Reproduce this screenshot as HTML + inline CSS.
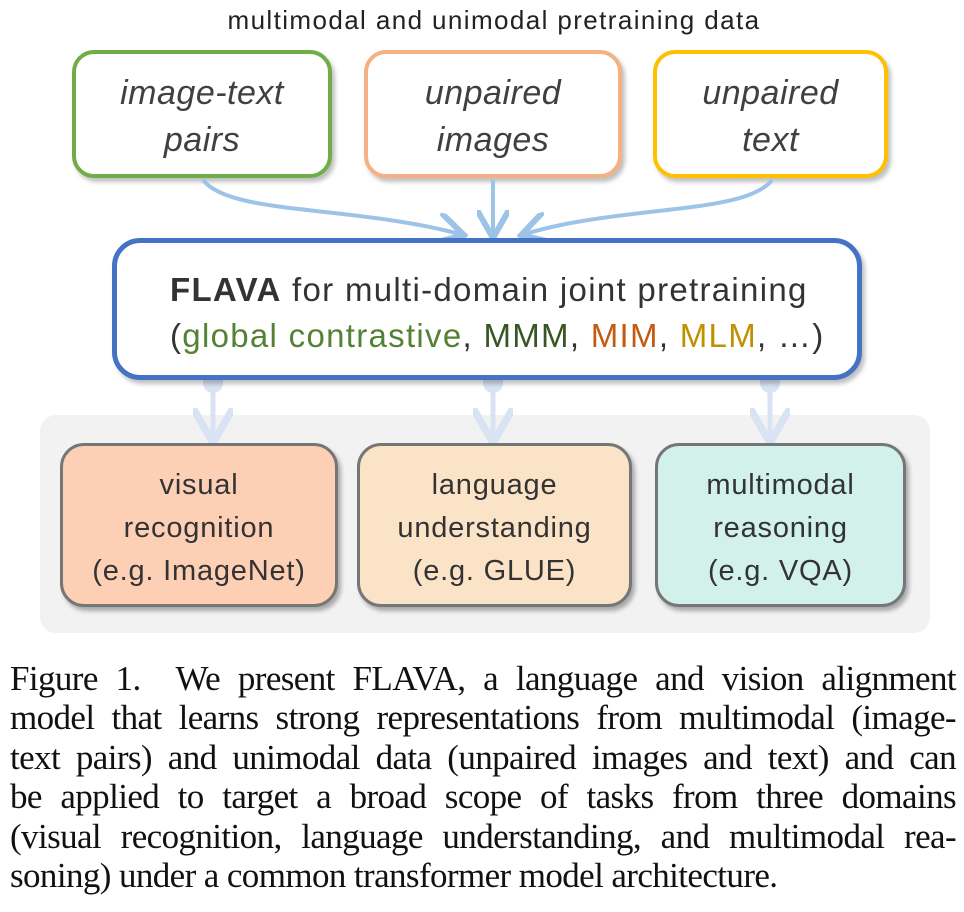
<!DOCTYPE html>
<html><head><meta charset="utf-8"><style>
body{margin:0;width:964px;height:912px;background:#fff;position:relative;overflow:hidden;font-family:"Liberation Sans",sans-serif}
.a{position:absolute;box-sizing:border-box}
.top{border-radius:22px;border:4px solid;background:#fff;font-style:italic;font-size:34px;letter-spacing:0.5px;color:#404040;text-align:center;line-height:47px;padding-top:16px;box-shadow:3px 4px 4px rgba(0,0,0,.25)}
.bot{border-radius:24px;border:3px solid #767676;font-size:29px;letter-spacing:0.8px;color:#333;text-align:center;line-height:43px;padding-top:18px;box-shadow:3px 4px 4px rgba(0,0,0,.3);white-space:nowrap}
.cap{position:absolute;left:10px;width:946px;font-family:"Liberation Serif",serif;font-size:35px;letter-spacing:-0.6px;color:#111;text-align:justify;text-align-last:justify;white-space:nowrap;height:40px;line-height:40px}
</style></head><body>
<div class="a" style="left:0;width:988px;top:5px;text-align:center;font-size:26px;letter-spacing:1.4px;color:#222">multimodal and unimodal pretraining data</div>
<div class="a top" style="left:72px;top:50px;width:260px;height:128px;border-color:#70ad47">image-text<br>pairs</div>
<div class="a top" style="left:364px;top:50px;width:258px;height:128px;border-color:#f4b183">unpaired<br>images</div>
<div class="a top" style="left:653px;top:50px;width:235px;height:128px;border-color:#ffc000">unpaired<br>text</div>
<div class="a" style="left:40px;top:415px;width:890px;height:218px;background:#f2f2f2;border-radius:16px"></div>
<svg class="a" style="left:0;top:0" width="964" height="450">
<defs><marker id="m" markerWidth="8" markerHeight="8" refX="6" refY="4" orient="auto" markerUnits="strokeWidth"><path d="M0,0 L7,4 L0,8" fill="none" stroke="#9dc3e6" stroke-width="1.5"/></marker>
<marker id="n" markerWidth="8" markerHeight="8" refX="6" refY="4" orient="auto" markerUnits="strokeWidth"><path d="M0,0 L7,4 L0,8" fill="none" stroke="#dae3f3" stroke-width="1.5"/></marker></defs>
<g fill="none" stroke="#9dc3e6" stroke-width="4">
<path d="M203,180 C230,215 350,205 460,234" marker-end="url(#m)"/>
<path d="M493,180 L493,234" marker-end="url(#m)"/>
<path d="M772,180 C745,215 620,205 525,234" marker-end="url(#m)"/>
</g>
<g fill="none" stroke="#dae3f3" stroke-width="5">
<path d="M213,382 L213,438" marker-end="url(#n)"/>
<path d="M493,382 L493,438" marker-end="url(#n)"/>
<path d="M770,382 L770,438" marker-end="url(#n)"/>
</g>
<g fill="#dae3f3"><circle cx="213" cy="383" r="10"/><circle cx="493" cy="383" r="10"/><circle cx="770" cy="383" r="10"/></g>
</svg>
<div class="a" style="left:112px;top:238px;width:750px;height:142px;border:5px solid #4472c4;border-radius:28px;background:#fff;box-shadow:3px 4px 4px rgba(0,0,0,.25);padding:24px 0 0 53px;font-size:33px;letter-spacing:1.3px;line-height:46px;color:#333;white-space:nowrap">
<b>FLAVA</b> for multi-domain joint pretraining<br>(<span style="color:#548235">global contrastive</span>, <span style="color:#375623">MMM</span>, <span style="color:#c55a11">MIM</span>, <span style="color:#bf9000">MLM</span>, …)</div>
<div class="a bot" style="left:60px;top:443px;width:278px;height:164px;background:#fdd0b6">visual<br>recognition<br>(e.g. ImageNet)</div>
<div class="a bot" style="left:357px;top:443px;width:275px;height:164px;background:#fbe3c7">language<br>understanding<br>(e.g. GLUE)</div>
<div class="a bot" style="left:655px;top:443px;width:251px;height:164px;background:#d1f1ea">multimodal<br>reasoning<br>(e.g. VQA)</div>
<div class="cap" style="top:659px">Figure 1.&nbsp; We present FLAVA, a language and vision alignment</div>
<div class="cap" style="top:698px">model that learns strong representations from multimodal (image-</div>
<div class="cap" style="top:738px">text pairs) and unimodal data (unpaired images and text) and can</div>
<div class="cap" style="top:777px">be applied to target a broad scope of tasks from three domains</div>
<div class="cap" style="top:817px">(visual recognition, language understanding, and multimodal rea-</div>
<div class="cap" style="top:856px;text-align-last:left">soning) under a common transformer model architecture.</div>
</body></html>
